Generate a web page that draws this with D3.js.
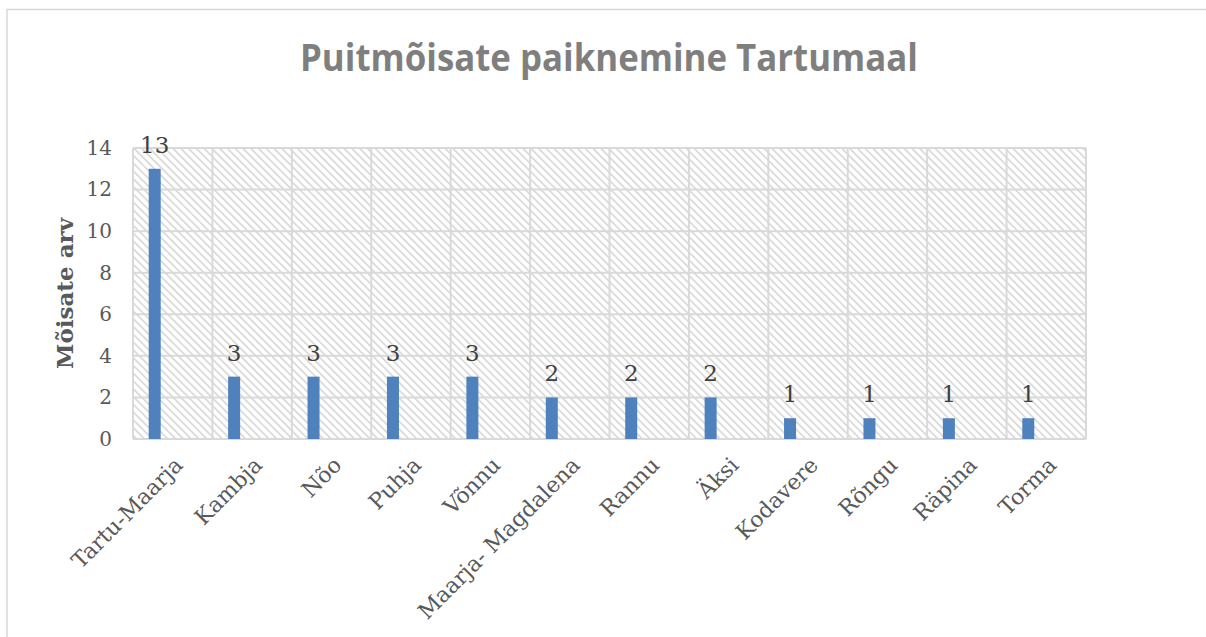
<!DOCTYPE html>
<html>
<head>
<meta charset="utf-8">
<script src="https://cdn.jsdelivr.net/npm/d3@7"></script>
<style>
  body { margin: 0; background: #fff; }
  svg { display: block; }
</style>
</head>
<body>
<div id="chartContainer"></div>
<script>
// ---------- Data ----------
const categories = ["Tartu-Maarja", "Kambja", "Nõo", "Puhja", "Võnnu", "Maarja- Magdalena",
                    "Rannu", "Äksi", "Kodavere", "Rõngu", "Räpina", "Torma"];
const counts = [13, 3, 3, 3, 3, 2, 2, 2, 1, 1, 1, 1];
const yTicks = [0, 2, 4, 6, 8, 10, 12, 14];
const seriesSlots = ["s1", "s2", "s3", "s4"]; // Excel left room for more series

const W = 1206, H = 637;
const plot = { left: 133, right: 1086, top: 148, bottom: 439 };
const serif = "'DejaVu Serif', serif";

const svg = d3.select("#chartContainer").append("svg")
  .attr("width", W).attr("height", H);

// ---------- Hatch pattern ----------
const defs = svg.append("defs");
defs.append("pattern")
  .attr("id", "hatch")
  .attr("patternUnits", "userSpaceOnUse")
  .attr("width", 5.5).attr("height", 6)
  .attr("patternTransform", "rotate(-45)")
  .append("rect")
  .attr("x", 0).attr("y", 0).attr("width", 1.6).attr("height", 6)
  .attr("fill", "#d6d6d6");

// ---------- Outer frame ----------
svg.append("rect")
  .attr("x", 7).attr("y", 9.5)
  .attr("width", W + 10).attr("height", H + 10)
  .attr("fill", "none").attr("stroke", "#d9d9d9").attr("stroke-width", 1.5);

// ---------- Title ----------
svg.append("text")
  .attr("x", 609).attr("y", 71)
  .attr("text-anchor", "middle")
  .attr("font-family", "'Open Sans', sans-serif")
  .attr("font-weight", "bold")
  .attr("font-size", 38)
  .attr("textLength", 618)
  .attr("lengthAdjust", "spacingAndGlyphs")
  .attr("fill", "#7f7f7f")
  .text("Puitmõisate paiknemine Tartumaal");

// ---------- Scales ----------
const x = d3.scaleBand()
  .domain(categories)
  .range([plot.left, plot.right])
  .padding(0);

const slot = d3.scaleBand()
  .domain(seriesSlots)
  .range([x.bandwidth() / 2 - 24, x.bandwidth() / 2 + 24]);

const y = d3.scaleLinear()
  .domain([0, 14])
  .range([plot.bottom, plot.top]);

// ---------- Plot background ----------
svg.append("rect")
  .attr("x", plot.left).attr("y", plot.top)
  .attr("width", plot.right - plot.left).attr("height", plot.bottom - plot.top)
  .attr("fill", "url(#hatch)");

// ---------- Grid ----------
const grid = svg.append("g").attr("stroke", "#d9d9d9").attr("stroke-width", 2);
grid.selectAll("line.h")
  .data(yTicks)
  .enter().append("line")
  .attr("x1", plot.left).attr("x2", plot.right)
  .attr("y1", d => y(d)).attr("y2", d => y(d));

grid.selectAll("line.v")
  .data(categories.concat(["__end"]))
  .enter().append("line")
  .attr("x1", (d, i) => plot.left + i * x.step())
  .attr("x2", (d, i) => plot.left + i * x.step())
  .attr("y1", plot.top).attr("y2", plot.bottom);

// ---------- Y axis ----------
const yAxis = svg.append("g")
  .attr("transform", `translate(${plot.left},0)`)
  .call(d3.axisLeft(y).tickValues(yTicks).tickSize(0).tickPadding(21));
yAxis.select(".domain").remove();
yAxis.selectAll("text")
  .style("font-family", serif)
  .style("font-size", "20px")
  .attr("fill", "#595959");

svg.append("text")
  .attr("transform", `translate(73,${(plot.top + plot.bottom) / 2}) rotate(-90)`)
  .attr("text-anchor", "middle")
  .style("font-family", serif)
  .style("font-weight", "bold")
  .style("font-size", "23px")
  .attr("fill", "#595959")
  .text("Mõisate arv");

// ---------- X axis labels ----------
const xAxis = svg.append("g")
  .attr("transform", `translate(0,${plot.bottom})`)
  .call(d3.axisBottom(x).tickSize(0).tickPadding(0));
xAxis.select(".domain").remove();
xAxis.selectAll("text")
  .style("font-family", serif)
  .style("font-size", "22px")
  .attr("fill", "#595959")
  .attr("text-anchor", "end")
  .attr("dy", "0.35em")
  .attr("transform", "translate(6,22) rotate(-45)");

// ---------- Bars ----------
const data = categories.map((c, i) => ({ cat: c, value: counts[i] }));
const barX = d => x(d.cat) + slot("s1");

svg.append("g").selectAll("rect")
  .data(data)
  .enter().append("rect")
  .attr("x", barX)
  .attr("y", d => y(d.value))
  .attr("width", slot.bandwidth())
  .attr("height", d => y(0) - y(d.value))
  .attr("fill", "#4f81bd");

// ---------- Value labels ----------
svg.append("g").selectAll("text")
  .data(data)
  .enter().append("text")
  .attr("x", d => barX(d) + slot.bandwidth() / 2)
  .attr("y", d => y(d.value) - 16)
  .attr("text-anchor", "middle")
  .style("font-family", serif)
  .style("font-size", "23px")
  .attr("fill", "#404040")
  .text(d => d.value);
</script>
</body>
</html>
